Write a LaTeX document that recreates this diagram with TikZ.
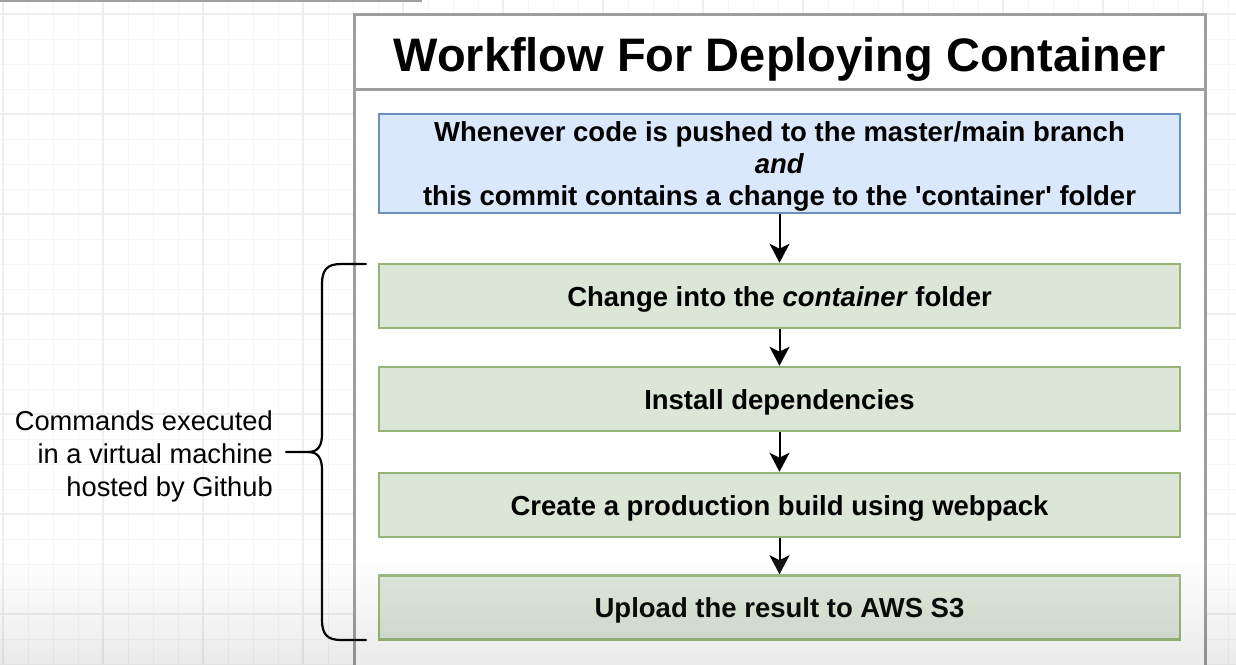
\documentclass[tikz,border=0pt]{standalone}
\usepackage{fontspec}
\setmainfont{Liberation Sans}
\usetikzlibrary{arrows.meta}
\definecolor{bluefill}{RGB}{218,232,252}
\definecolor{blueline}{RGB}{108,142,191}
\definecolor{greenfill}{RGB}{220,230,215}
\definecolor{greenline}{RGB}{150,180,120}
\definecolor{framegray}{RGB}{158,158,158}
\definecolor{gridfaint}{RGB}{246,246,246}
\definecolor{gridbold}{RGB}{238,238,238}
\newcommand{\toppad}{\rule{0pt}{26pt}}
\tikzset{
  boxbase/.style={line width=2.5, minimum width=801, align=center, inner sep=0,
    font=\fontsize{27.5}{32}\selectfont\bfseries},
  stepbox/.style={boxbase, draw=greenline, fill=greenfill, minimum height=64,
    execute at begin node={\toppad}},
  triggerbox/.style={boxbase, draw=blueline, fill=bluefill, minimum height=99},
  titlebox/.style={draw=framegray, fill=white, line width=3, minimum width=851, minimum height=75,
    inner sep=0, font=\fontsize{47}{50}\selectfont\bfseries,
    execute at begin node={\rule{0pt}{50pt}}},
  flow/.style={line width=2, -{Stealth[length=19, width=20, inset=5]}},
  bracepath/.style={line width=2.2, line cap=round, line join=round},
  sidetext/.style={align=right, anchor=east, inner sep=0, font=\fontsize{27.3}{33}\selectfont}
}
\begin{document}
\begin{tikzpicture}[x=1pt,y=-1pt]
\useasboundingbox (0,0) rectangle (1236,664);
\fill[white] (0,0) rectangle (1236,664);
% background grid
\foreach \i in {0,...,49} \draw[gridfaint, line width=1] ({3+25*\i},0) -- ({3+25*\i},664);
\foreach \j in {0,...,26} \draw[gridfaint, line width=1] (0,{14+25*\j}) -- (1236,{14+25*\j});
\foreach \i in {0,...,12} \draw[gridbold, line width=1.2] ({3+100*\i},0) -- ({3+100*\i},664);
\foreach \j in {0,...,6} \draw[gridbold, line width=1.2] (0,{14+100*\j}) -- (1236,{14+100*\j});
\fill[gray!75] (0,0) rectangle (422,2);
% outer frame body
\draw[framegray, fill=white, line width=3] (354,89) -- (354,670) -- (1205,670) -- (1205,89);
% title
\node[titlebox] (title) at (779.5,51.5) {Workflow For Deploying Container};
% boxes
\node[triggerbox] (trigger) at (779.5,163.5) {\toppad Whenever code is pushed to the master/main branch\\
  \textit{and}\\ this commit contains a change to the \textquotesingle container\textquotesingle\ folder};
\node[stepbox] (s1) at (779.5,296) {Change into the \textit{container} folder};
\node[stepbox] (s2) at (779.5,399) {Install dependencies};
\node[stepbox] (s3) at (779.5,505) {Create a production build using webpack};
\node[stepbox] (s4) at (779.5,607.5) {Upload the result to AWS S3};
\draw[flow] (trigger) -- (s1);
\draw[flow] (s1) -- (s2);
\draw[flow] (s2) -- (s3);
\draw[flow] (s3) -- (s4);
% side label and brace
\node[sidetext] (side) at (273,453) {\toppad Commands executed\\ in a virtual machine\\ hosted by Github};
\coordinate (bt) at (366,264);
\coordinate (bb) at (366,640);
\coordinate (tip) at (286,452);
\draw[bracepath] (bt) -- (341,264) .. controls (327,264) and (322,270) .. (322,284) -- (322,434)
  .. controls (322,446) and (318,452) .. (308,452) -- (tip);
\draw[bracepath] (bb) -- (341,640) .. controls (327,640) and (322,634) .. (322,620) -- (322,470)
  .. controls (322,458) and (318,452) .. (308,452);
% bottom darkening
\shade[top color=white, bottom color=black, opacity=0.08] (0,560) rectangle (1236,664);
\end{tikzpicture}
\end{document}
